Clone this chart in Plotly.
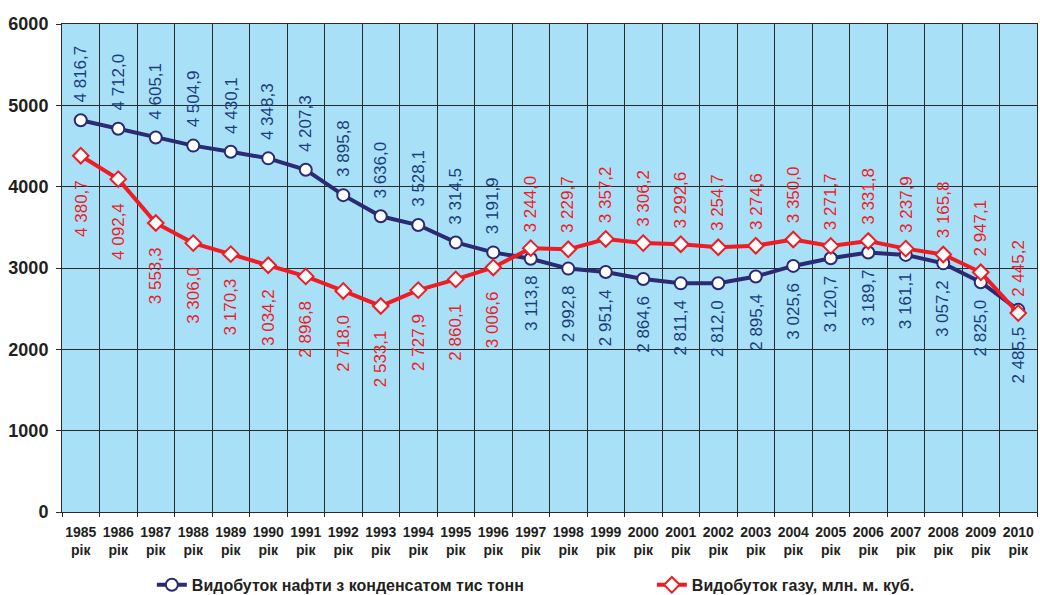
import plotly.graph_objects as go

years = ["1985", "1986", "1987", "1988", "1989", "1990", "1991", "1992", "1993", "1994",
         "1995", "1996", "1997", "1998", "1999", "2000", "2001", "2002", "2003", "2004",
         "2005", "2006", "2007", "2008", "2009", "2010"]
categories = [f"{y}<br>рік" for y in years]

oil = [4816.7, 4712.0, 4605.1, 4504.9, 4430.1, 4348.3, 4207.3, 3895.8, 3636.0, 3528.1,
       3314.5, 3191.9, 3113.8, 2992.8, 2951.4, 2864.6, 2811.4, 2812.0, 2895.4, 3025.6,
       3120.7, 3189.7, 3161.1, 3057.2, 2825.0, 2485.5]
gas = [4380.7, 4092.4, 3553.3, 3306.0, 3170.3, 3034.2, 2896.8, 2718.0, 2533.1, 2727.9,
       2860.1, 3006.6, 3244.0, 3229.7, 3357.2, 3306.2, 3292.6, 3254.7, 3274.6, 3350.0,
       3271.7, 3331.8, 3237.9, 3165.8, 2947.1, 2445.2]

# label placement relative to the point: "a" = above, "b" = below
oil_side = ["a", "a", "a", "a", "a", "a", "a", "a", "a", "a", "a", "a", "b",
            "b", "b", "b", "b", "b", "b", "b", "b", "b", "b", "b", "b", "b"]
gas_side = ["b", "b", "b", "b", "b", "b", "b", "b", "b", "b", "b", "b", "a",
            "a", "a", "a", "a", "a", "a", "a", "a", "a", "a", "a", "a", "a"]

oil_name = "Видобуток нафти з конденсатом тис тонн"
gas_name = "Видобуток газу, млн. м. куб."

OIL_C = "#2b2a72"
OIL_TXT = "#1c3d7a"
GAS_C = "#ee1c25"
BG = "#a8e0f8"
GRID = "#2a2a2a"
FONT = "Liberation Sans, Arial, sans-serif"


def fmt(v):
    return f"{v:,.1f}".replace(",", " ").replace(".", ",")


fig = go.Figure()
fig.add_trace(go.Scatter(
    x=categories, y=oil, name=oil_name, mode="lines+markers", legendwidth=455,
    line=dict(color=OIL_C, width=4),
    marker=dict(symbol="circle", size=12, color="white", line=dict(color=OIL_C, width=2)),
))
fig.add_trace(go.Scatter(
    x=categories, y=gas, name=gas_name, mode="lines+markers",
    line=dict(color=GAS_C, width=4),
    marker=dict(symbol="diamond", size=12, color="white", line=dict(color=GAS_C, width=2)),
))

ann = []
for x, v, s in zip(categories, oil, oil_side):
    ann.append(dict(x=x, y=v, text=fmt(v), textangle=-90, showarrow=False,
                    yanchor="bottom" if s == "a" else "top",
                    yshift=16 if s == "a" else -15,
                    font=dict(family=FONT, size=17, color=OIL_TXT)))
for x, v, s in zip(categories, gas, gas_side):
    ann.append(dict(x=x, y=v, text=fmt(v), textangle=-90, showarrow=False,
                    yanchor="bottom" if s == "a" else "top",
                    yshift=14 if s == "a" else -22,
                    font=dict(family=FONT, size=17, color=GAS_C)))

fig.update_layout(
    width=1040, height=595,
    margin=dict(l=62, r=3, t=24, b=83),
    paper_bgcolor="white", plot_bgcolor=BG,
    font=dict(family=FONT, color="#231f20"),
    showlegend=True,
    legend=dict(orientation="h", xref="container", yref="container",
                x=0.146, y=0.017, xanchor="left", yanchor="middle",
                font=dict(family=FONT, size=16, color="#231f20", weight="bold"),
                bgcolor="rgba(0,0,0,0)"),
    annotations=ann,
)
fig.update_xaxes(
    type="category", range=[-0.5, len(categories) - 0.5],
    tickson="boundaries", ticks="outside", ticklen=4, tickcolor=GRID,
    showgrid=True, gridcolor=GRID, gridwidth=1,
    showline=True, linecolor=GRID, linewidth=1, mirror=True,
    tickfont=dict(family=FONT, size=14, color="#231f20", weight="bold"),
    tickangle=0, ticklabelstandoff=7,
)
fig.update_yaxes(
    range=[0, 6000], tickvals=[0, 1000, 2000, 3000, 4000, 5000, 6000],
    ticks="outside", ticklen=5, tickcolor=GRID,
    showgrid=True, gridcolor=GRID, gridwidth=1, zeroline=False,
    showline=True, linecolor=GRID, linewidth=1, mirror=True,
    tickfont=dict(family=FONT, size=18, color="#231f20", weight="bold"),
    ticklabelstandoff=4,
)

fig.write_html("out.html", config={"displayModeBar": False},
               post_script="document.body.style.margin='0';")
